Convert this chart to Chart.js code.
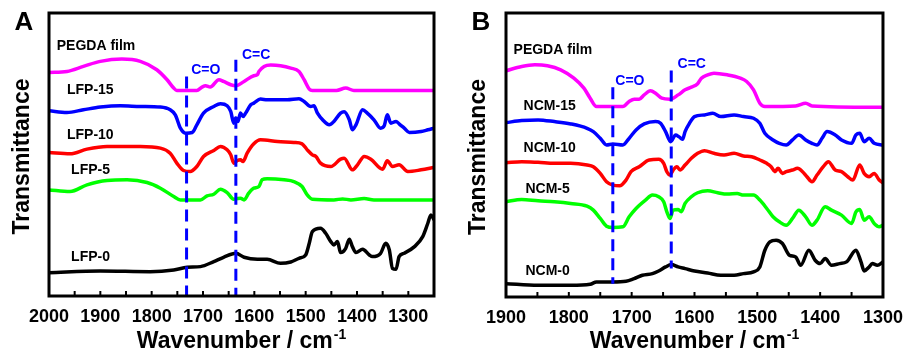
<!DOCTYPE html>
<html>
<head>
<meta charset="utf-8">
<script src="https://cdn.jsdelivr.net/npm/chart.js@4.4.0/dist/chart.umd.min.js"></script>
<style>
  body { margin: 0; background: #fff; }
  #wrap { position: relative; width: 913px; height: 354px; }
  #pA { position: absolute; left: 0; top: 0; }
  #pB { position: absolute; left: 455px; top: 0; }
</style>
</head>
<body>
<div id="wrap">
  <canvas id="pA" width="455" height="354"></canvas>
  <canvas id="pB" width="458" height="354"></canvas>
</div>
<script>
// ---- panel A (LFP) ----
let ticksA = [2000, 1900, 1800, 1700, 1600, 1500, 1400, 1300];

let pegdaAW = [2000,1965,1933,1900,1858,1822,1790,1770,1757,1751,1712,1702,1695,1686,1669,1660,1646,1636,1620,1601,1594,1591,1581,1568,1549,1529,1513,1503,1493,1487,1440,1422,1406,1250];
let pegdaAT = [682,685,700,715,722,715,690,660,635,628,628,638,642,638,660,655,645,642,655,672,675,685,700,704,702,695,685,660,632,628,628,635,628,628];

let lfp15W = [2000,1965,1933,1900,1861,1822,1783,1764,1754,1744,1734,1721,1712,1699,1679,1666,1653,1646,1640,1636,1632,1627,1622,1617,1607,1601,1588,1575,1555,1536,1513,1503,1490,1484,1477,1467,1454,1445,1432,1425,1415,1409,1402,1389,1380,1367,1354,1347,1341,1334,1324,1318,1308,1298,1275,1262,1250];
let lfp15T = [567,562,570,578,582,580,578,570,555,515,500,502,525,560,580,588,582,565,530,545,535,560,550,560,585,590,602,600,600,600,603,595,580,582,560,540,525,535,560,564,540,510,525,570,560,540,515,522,555,530,535,528,515,502,505,510,515];

let lfp10W = [2000,1959,1926,1887,1822,1783,1764,1751,1738,1725,1712,1699,1679,1666,1653,1646,1640,1633,1627,1622,1614,1601,1588,1555,1523,1507,1497,1487,1480,1471,1451,1432,1425,1409,1399,1386,1373,1350,1341,1331,1318,1301,1275,1250];
let lfp10T = [442,438,452,460,460,455,440,410,388,385,400,430,448,460,450,435,410,418,420,415,440,468,480,475,472,468,450,435,430,410,400,422,425,390,405,430,422,392,417,400,405,385,390,397];

let lfp5W = [2000,1959,1926,1887,1848,1809,1783,1757,1744,1705,1692,1679,1666,1653,1640,1633,1627,1620,1611,1601,1591,1585,1575,1542,1523,1507,1497,1487,1445,1428,1412,1386,1367,1250];
let lfp5T = [330,325,345,358,360,352,335,310,300,300,312,317,332,322,302,304,305,300,320,335,340,360,363,360,355,340,315,302,300,303,300,304,300,300];

let lfp0W = [2000,1900,1803,1757,1731,1705,1679,1660,1636,1620,1594,1575,1549,1529,1513,1500,1493,1487,1471,1461,1451,1445,1438,1432,1422,1415,1409,1402,1389,1376,1370,1354,1344,1337,1331,1324,1318,1308,1288,1272,1262,1256,1250];
let lfp0T = [82,87,85,90,98,100,115,128,140,128,122,122,110,114,125,135,170,205,215,200,175,165,175,142,155,182,160,142,152,135,130,140,170,150,95,92,130,140,160,190,230,255,240];

let markA = [1732, 1636];
let markATop = [670, 720];
let markABottom = [12, 12];

// ---- panel B (NCM) ----
let ticksB = [1900, 1800, 1700, 1600, 1500, 1400, 1300];

let pegdaBW = [1900,1875,1854,1834,1813,1792,1776,1766,1756,1714,1704,1696,1688,1680,1670,1662,1652,1639,1626,1615,1605,1595,1589,1579,1569,1548,1527,1517,1506,1496,1488,1439,1423,1413,1300];
let pegdaBT = [687,700,705,702,690,665,635,605,580,580,595,602,602,615,627,620,605,602,615,630,638,648,665,675,680,675,665,655,630,590,580,582,590,582,578];

let ncm15W = [1900,1875,1849,1823,1797,1771,1761,1750,1740,1730,1714,1704,1693,1680,1662,1654,1646,1638,1630,1625,1619,1615,1608,1600,1584,1571,1558,1537,1522,1506,1496,1488,1475,1465,1454,1444,1434,1423,1413,1405,1397,1389,1376,1366,1350,1343,1337,1330,1322,1314,1300];
let ncm15T = [532,538,540,535,528,515,505,485,465,468,465,485,510,528,535,530,505,475,495,490,482,505,530,550,555,560,550,555,550,545,530,500,480,470,465,480,495,480,470,465,485,505,495,480,470,495,500,475,485,470,465];

let ncm10W = [1900,1875,1849,1823,1797,1771,1761,1750,1740,1730,1719,1709,1701,1688,1672,1657,1649,1644,1639,1634,1628,1623,1615,1605,1595,1584,1569,1553,1537,1522,1509,1496,1485,1478,1472,1467,1460,1454,1444,1436,1428,1421,1413,1405,1395,1387,1376,1366,1356,1348,1337,1330,1322,1314,1306,1300];
let ncm10T = [412,415,413,410,410,405,400,380,355,345,343,360,385,400,420,422,410,385,375,390,400,390,405,425,440,448,440,435,440,432,430,420,410,400,385,395,380,385,390,395,385,370,355,375,400,415,390,385,370,360,405,380,370,380,360,352];

let ncm5W = [1900,1875,1849,1823,1797,1771,1761,1750,1740,1730,1714,1704,1693,1678,1667,1657,1649,1644,1639,1634,1626,1621,1615,1605,1595,1579,1563,1548,1532,1522,1506,1496,1485,1475,1465,1454,1444,1434,1423,1413,1405,1392,1382,1366,1350,1343,1337,1330,1322,1314,1306,1300];
let ncm5T = [295,302,298,295,290,282,270,245,222,218,220,250,275,300,315,310,295,265,245,270,272,265,290,310,322,328,322,318,320,315,315,300,275,250,235,225,245,270,250,225,240,280,270,255,230,265,272,240,250,230,220,225];

let ncm0W = [1900,1849,1797,1766,1756,1730,1709,1696,1683,1667,1657,1646,1637,1626,1615,1600,1579,1558,1537,1522,1506,1496,1488,1480,1470,1460,1449,1439,1431,1418,1408,1400,1392,1382,1369,1358,1343,1335,1330,1322,1317,1309,1300];
let ncm0T = [50,45,45,48,55,55,57,65,75,80,88,100,107,100,95,88,82,75,75,80,85,100,150,175,180,170,135,130,105,150,120,110,125,105,110,115,150,115,88,100,110,105,115];

let markB = [1730, 1637];
let markBTop = [638, 688];
let markBBottom = [50, 95];

const fontFam = '"Liberation Sans", Arial, sans-serif';
const blue = '#0000ff';

function pts(xs, ys) {
  return xs.map((x, i) => ({ x: x, y: ys[i] }));
}

function curve(xs, ys, color) {
  return {
    data: pts(xs, ys),
    borderColor: color,
    borderWidth: 3.5,
    pointRadius: 0,
    cubicInterpolationMode: 'monotone',
    order: 2
  };
}

function dashes(xs, tops, bottoms) {
  return xs.map((x, i) => ({
    data: [{ x: x, y: tops[i] }, { x: x, y: bottoms[i] }],
    borderColor: blue,
    borderWidth: 3,
    borderDash: [12, 7],
    pointRadius: 0,
    order: 1
  }));
}

// frame, inward ticks, curve labels, axis titles, panel letter
const decor = {
  id: 'decor',
  afterDatasetsDraw(chart, args, opts) {
    const ctx = chart.ctx;
    const a = chart.chartArea;
    const x = chart.scales.x, y = chart.scales.y;
    ctx.save();

    ctx.font = 'bold 14px ' + fontFam;
    ctx.textBaseline = 'middle';
    ctx.textAlign = 'left';
    opts.labels.forEach(l => {
      ctx.fillStyle = l.color || '#000';
      ctx.fillText(l.text, x.getPixelForValue(l.x), y.getPixelForValue(l.y));
    });

    ctx.strokeStyle = '#000';
    ctx.lineWidth = 3;
    ctx.strokeRect(a.left, a.top, a.right - a.left, a.bottom - a.top);

    ctx.lineWidth = 2;
    for (let w = Math.ceil(x.min / 50) * 50; w <= x.max; w += 50) {
      const px = x.getPixelForValue(w);
      ctx.beginPath();
      ctx.moveTo(px, a.bottom);
      ctx.lineTo(px, a.bottom - 5);
      ctx.stroke();
    }

    // x title with superscript
    ctx.fillStyle = '#000';
    ctx.textBaseline = 'alphabetic';
    ctx.font = 'bold 23px ' + fontFam;
    const main = 'Wavenumber / cm';
    const mw = ctx.measureText(main).width;
    ctx.font = 'bold 14px ' + fontFam;
    const sw = ctx.measureText('-1').width;
    const x0 = (a.left + a.right) / 2 - (mw + sw + 1) / 2;
    ctx.font = 'bold 23px ' + fontFam;
    ctx.fillText(main, x0, 348);
    ctx.font = 'bold 14px ' + fontFam;
    ctx.fillText('-1', x0 + mw + 1, 339);

    // y title
    ctx.save();
    ctx.translate(opts.yTitleX, (a.top + a.bottom) / 2 + 2);
    ctx.rotate(-Math.PI / 2);
    ctx.font = 'bold 23px ' + fontFam;
    ctx.textAlign = 'center';
    ctx.textBaseline = 'middle';
    ctx.fillText('Transmittance', 0, 0);
    ctx.restore();

    ctx.font = 'bold 26px ' + fontFam;
    ctx.textAlign = 'center';
    ctx.textBaseline = 'middle';
    ctx.fillText(opts.letter, opts.letterX, 23);
    ctx.restore();
  }
};

function makePanel(id, cfg) {
  return new Chart(document.getElementById(id), {
    type: 'line',
    data: { datasets: cfg.datasets },
    plugins: [decor],
    options: {
      responsive: false,
      animation: false,
      events: [],
      layout: { padding: cfg.padding },
      plugins: {
        legend: { display: false },
        tooltip: { enabled: false },
        decor: { labels: cfg.labels, letter: cfg.letter, letterX: cfg.letterX, yTitleX: cfg.yTitleX }
      },
      scales: {
        x: {
          type: 'linear',
          reverse: true,
          min: cfg.xMin,
          max: cfg.xMax,
          afterBuildTicks: s => { s.ticks = cfg.ticks.map(v => ({ value: v })); },
          afterFit: s => { s.height = cfg.xHeight; },
          grid: { display: false, drawTicks: false },
          border: { display: false },
          ticks: {
            padding: 10,
            color: '#000',
            font: { family: fontFam, size: 18, weight: 'bold' },
            callback: v => String(v)
          }
        },
        y: {
          type: 'linear',
          display: false,
          min: cfg.yMin,
          max: 860
        }
      }
    }
  });
}

makePanel('pA', {
  datasets: dashes(markA, markATop, markABottom).concat([
    curve(pegdaAW, pegdaAT, '#ff00ff'),
    curve(lfp15W, lfp15T, '#0000ff'),
    curve(lfp10W, lfp10T, '#ff0000'),
    curve(lfp5W, lfp5T, '#00ff00'),
    curve(lfp0W, lfp0T, '#000000')
  ]),
  padding: { left: 49, right: 21, top: 13, bottom: 0 },
  xMin: 1250, xMax: 2000, yMin: 12, xHeight: 58,
  ticks: ticksA,
  letter: 'A', letterX: 24, yTitleX: 23,
  labels: [
    { text: 'PEGDA film', x: 1985, y: 760 },
    { text: 'LFP-15', x: 1965, y: 630 },
    { text: 'LFP-10', x: 1965, y: 495 },
    { text: 'LFP-5', x: 1957, y: 390 },
    { text: 'LFP-0', x: 1957, y: 128 },
    { text: 'C=O', x: 1723, y: 688, color: blue },
    { text: 'C=C', x: 1624, y: 733, color: blue }
  ]
});

makePanel('pB', {
  datasets: dashes(markB, markBTop, markBBottom).concat([
    curve(pegdaBW, pegdaBT, '#ff00ff'),
    curve(ncm15W, ncm15T, '#0000ff'),
    curve(ncm10W, ncm10T, '#ff0000'),
    curve(ncm5W, ncm5T, '#00ff00'),
    curve(ncm0W, ncm0T, '#000000')
  ]),
  padding: { left: 51, right: 22, top: 13, bottom: 0 },
  xMin: 1300, xMax: 1900, yMin: 10, xHeight: 57,
  ticks: ticksB,
  letter: 'B', letterX: 26, yTitleX: 24,
  labels: [
    { text: 'PEGDA film', x: 1888, y: 750 },
    { text: 'NCM-15', x: 1872, y: 582 },
    { text: 'NCM-10', x: 1872, y: 457 },
    { text: 'NCM-5', x: 1869, y: 334 },
    { text: 'NCM-0', x: 1869, y: 87 },
    { text: 'C=O', x: 1726, y: 657, color: blue },
    { text: 'C=C', x: 1627, y: 707, color: blue }
  ]
});
</script>
</body>
</html>
